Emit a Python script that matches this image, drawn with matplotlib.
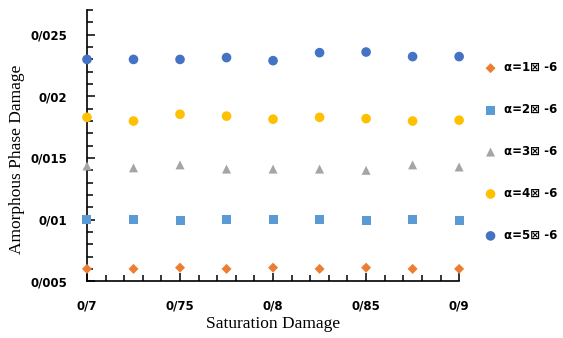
import matplotlib
matplotlib.use('Agg')
import matplotlib.pyplot as plt
from matplotlib.ticker import MultipleLocator, FuncFormatter

# datos
saturacion = [0.7, 0.725, 0.75, 0.775, 0.8, 0.825, 0.85, 0.875, 0.9]
alfa_1 = [0.0060, 0.0060, 0.0061, 0.0060, 0.0061, 0.0060, 0.0061, 0.0060, 0.0060]
alfa_2 = [0.0100, 0.0100, 0.0099, 0.0100, 0.0100, 0.0100, 0.0099, 0.0100, 0.0099]
alfa_3 = [0.01435, 0.0142, 0.01444, 0.0141, 0.0141, 0.0141, 0.0140, 0.01444, 0.01427]
alfa_4 = [0.0183, 0.0180, 0.01855, 0.0184, 0.01815, 0.0183, 0.0182, 0.0180, 0.01807]
alfa_5 = [0.0230, 0.0230, 0.0230, 0.02315, 0.0229, 0.02355, 0.0236, 0.02323, 0.02323]
etiquetas = ['α=1⊠ -6', 'α=2⊠ -6', 'α=3⊠ -6', 'α=4⊠ -6', 'α=5⊠ -6']

series = [alfa_1, alfa_2, alfa_3, alfa_4, alfa_5]
colores = ['#ED7D31', '#5B9BD5', '#A5A5A5', '#FFC000', '#4472C4']
marcadores = ['D', 's', '^', 'o', 'o']
tamanos = [26, 42, 42, 48, 48]

fig = plt.figure(figsize=(5.63, 3.38), dpi=100)
ax = fig.add_axes([0.1545, 0.168, 0.661, 0.802])

for valores, color, m, s, etiqueta in zip(series, colores, marcadores, tamanos, etiquetas):
    ax.scatter(saturacion, valores, color=color, marker=m, s=s, label=etiqueta,
               edgecolors='none', zorder=3, clip_on=False)

ax.set_xlim(0.7, 0.9)
ax.set_ylim(0.005, 0.027)

ax.xaxis.set_major_locator(MultipleLocator(0.05))
ax.xaxis.set_minor_locator(MultipleLocator(0.01))
ax.yaxis.set_major_locator(MultipleLocator(0.005))
ax.yaxis.set_minor_locator(MultipleLocator(0.001))

formato = FuncFormatter(lambda v, p: ('%g' % round(v, 4)).replace('.', '/'))
ax.xaxis.set_major_formatter(formato)
ax.yaxis.set_major_formatter(formato)

ax.spines['top'].set_visible(False)
ax.spines['right'].set_visible(False)
for lado in ['left', 'bottom']:
    ax.spines[lado].set_linewidth(1.2)

ax.tick_params(which='major', direction='in', length=6, width=1.1, labelsize=8.5)
ax.tick_params(which='minor', direction='in', length=4, width=1.1)
for t in ax.get_xticklabels() + ax.get_yticklabels():
    t.set_fontweight('bold')
ax.tick_params(axis='x', pad=13)
ax.tick_params(axis='y', pad=14)

ax.set_xlabel('Saturation Damage', family='Liberation Serif', fontsize=12.5)
ax.set_ylabel('Amorphous Phase Damage', family='Liberation Serif', fontsize=12.5)
ax.xaxis.set_label_coords(0.5, -0.128)
ax.yaxis.set_label_coords(-0.167, 0.45)

ley = ax.legend(loc='center left', bbox_to_anchor=(1.04, 0.478), frameon=False,
                labelspacing=2.45, handletextpad=0.6, handlelength=1.0,
                prop={'weight': 'bold', 'size': 8.5})

fig.savefig('out.png', dpi=100)
